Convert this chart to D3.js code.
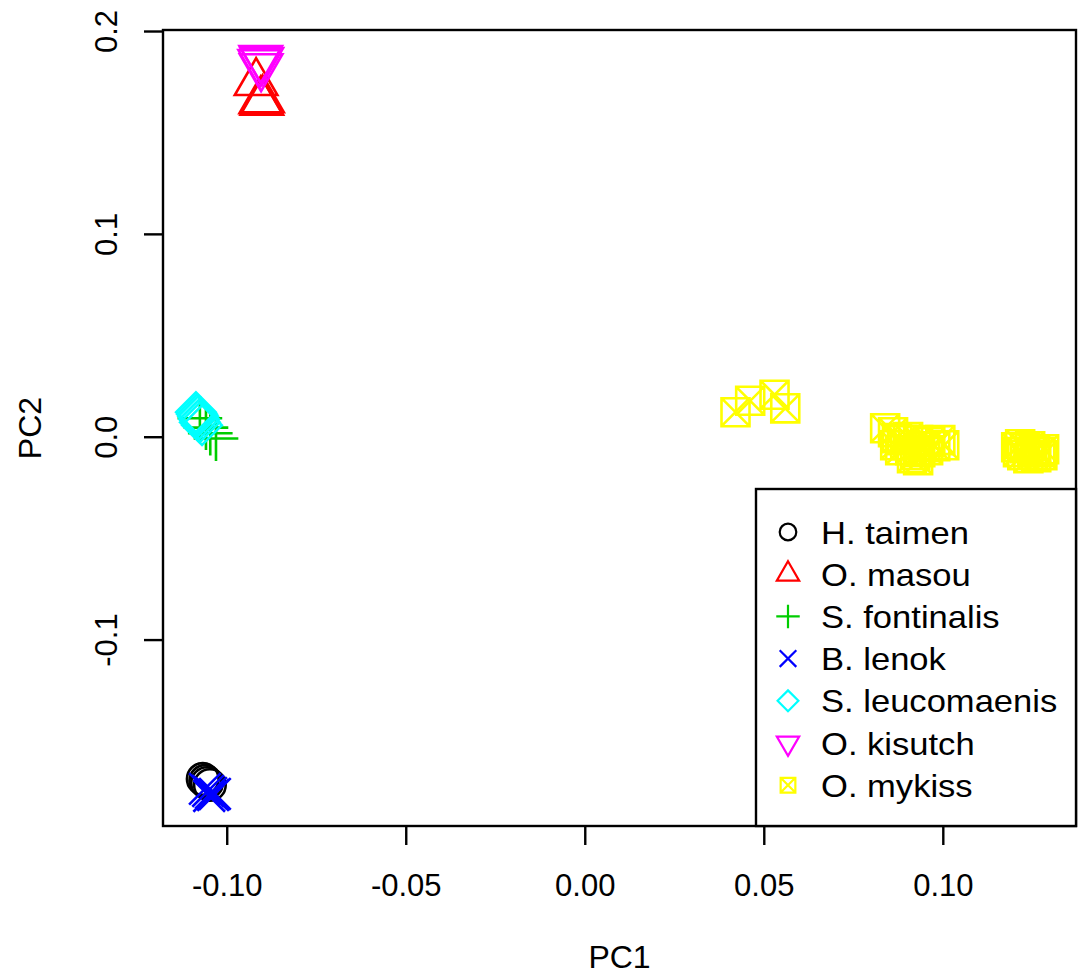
<!DOCTYPE html>
<html>
<head>
<meta charset="utf-8">
<script src="https://cdn.jsdelivr.net/npm/d3@7"></script>
<style>
  body { margin: 0; background: #fff; }
  text { font-family: "Liberation Sans", Arial, sans-serif; }
</style>
</head>
<body>
<svg id="plot"></svg>
<script>
// species, in legend order
const species = ["H. taimen", "O. masou", "S. fontinalis", "B. lenok", "S. leucomaenis", "O. kisutch", "O. mykiss"];
const colors = ["#000000", "#FF0000", "#00CD00", "#0000FF", "#00FFFF", "#FF00FF", "#FFFF00"];
const shapes = ["circle", "triUp", "plus", "cross", "diamond", "triDown", "squareX"];

// PC scores, one array per species: [PC1, PC2]
const taimen = [[-0.1067, -0.1687], [-0.1055, -0.1707], [-0.1047, -0.1717], [-0.1060, -0.1697]];
const masou = [[-0.0918, 0.1745], [-0.0905, 0.1655], [-0.0900, 0.1660], [-0.0902, 0.1648]];
const fontinalis = [[-0.1075, 0.0091], [-0.1058, 0.0045], [-0.1046, 0.0017], [-0.1030, -0.0009]];
const lenok = [[-0.1061, -0.1736], [-0.1052, -0.1746], [-0.1044, -0.1756], [-0.1038, -0.1766], [-0.1049, -0.1771], [-0.1033, -0.1761]];
const leucomaenis = [[-0.1086, 0.0121], [-0.1083, 0.0111], [-0.1080, 0.0101], [-0.1077, 0.0086], [-0.1075, 0.0071], [-0.1069, 0.0057]];
const kisutch = [[-0.0905, 0.1865], [-0.0902, 0.1855], [-0.0908, 0.1845], [-0.0904, 0.1825]];
const mykiss = [
  [0.0421, 0.0121], [0.0462, 0.0177], [0.0530, 0.0207], [0.0560, 0.0140],
  [0.0839, 0.0042], [0.0861, 0.0022], [0.0872, -0.0007], [0.0886, -0.0017], [0.0895, -0.0042],
  [0.0909, -0.0067], [0.0923, -0.0091], [0.0937, -0.0076], [0.0951, -0.0052], [0.0965, -0.0027],
  [0.0993, -0.0017], [0.1004, -0.0042], [0.0881, -0.0067], [0.0914, -0.0106], [0.0931, -0.0116],
  [0.0903, -0.0002], [0.0867, -0.0042], [0.0931, -0.0017], [0.0959, -0.0067], [0.0979, -0.0047],
  [0.1205, -0.0052], [0.1216, -0.0037], [0.1230, -0.0057], [0.1244, -0.0047], [0.1258, -0.0067],
  [0.1272, -0.0076], [0.1283, -0.0062], [0.1222, -0.0091], [0.1239, -0.0106], [0.1261, -0.0101],
  [0.1250, -0.0076], [0.1210, -0.0076], [0.1278, -0.0091]
];
const scores = [taimen, masou, fontinalis, lenok, leucomaenis, kisutch, mykiss];

const xTicks = [-0.10, -0.05, 0.00, 0.05, 0.10];
const xTickLabels = ["-0.10", "-0.05", "0.00", "0.05", "0.10"];
const yTicks = [-0.1, 0.0, 0.1, 0.2];
const yTickLabels = ["-0.1", "0.0", "0.1", "0.2"];

const width = 1079, height = 976;
const margin = {left: 163, right: 3, top: 30, bottom: 150};

const svg = d3.select("#plot").attr("width", width).attr("height", height);

const x = d3.scaleLinear().domain([-0.1178, 0.1372]).range([margin.left, width - margin.right]);
const y = d3.scaleLinear().domain([-0.1919, 0.2005]).range([height - margin.bottom, margin.top]);

// R style point glyphs, r is the base radius
function glyph(shape, r) {
  const p = d3.path();
  if (shape === "circle") {
    p.moveTo(r, 0); p.arc(0, 0, r, 0, 2 * Math.PI);
  } else if (shape === "triUp" || shape === "triDown") {
    const s = shape === "triUp" ? 1 : -1;
    const tr = 1.5551 * r, xc = 1.3468 * r, yc = 0.7776 * r;
    p.moveTo(0, -s * tr); p.lineTo(xc, s * yc); p.lineTo(-xc, s * yc); p.closePath();
  } else if (shape === "plus") {
    const c = Math.SQRT2 * r;
    p.moveTo(-c, 0); p.lineTo(c, 0); p.moveTo(0, -c); p.lineTo(0, c);
  } else if (shape === "cross") {
    p.moveTo(-r, -r); p.lineTo(r, r); p.moveTo(-r, r); p.lineTo(r, -r);
  } else if (shape === "diamond") {
    const c = 1.2533 * r;
    p.moveTo(-c, 0); p.lineTo(0, -c); p.lineTo(c, 0); p.lineTo(0, c); p.closePath();
  } else if (shape === "squareX") {
    const c = 0.8862 * r;
    p.rect(-c, -c, 2 * c, 2 * c);
    p.moveTo(-c, -c); p.lineTo(c, c); p.moveTo(-c, c); p.lineTo(c, -c);
  }
  return p.toString();
}

// points
scores.forEach((pts, i) => {
  svg.append("g").selectAll("path")
    .data(pts)
    .enter()
    .append("path")
    .attr("transform", d => `translate(${x(d[0])},${y(d[1])})`)
    .attr("d", glyph(shapes[i], 15.8))
    .attr("fill", "none")
    .attr("stroke", colors[i])
    .attr("stroke-width", 2.6);
});

// axes
const xAxis = svg.append("g")
  .attr("transform", `translate(0,${height - margin.bottom})`)
  .call(d3.axisBottom(x).tickValues(xTicks).tickFormat((d, i) => xTickLabels[i]).tickSize(19).tickPadding(29));
const yAxis = svg.append("g")
  .attr("transform", `translate(${margin.left},0)`)
  .call(d3.axisLeft(y).tickValues(yTicks).tickFormat((d, i) => yTickLabels[i]).tickSize(19).tickPadding(10));

[xAxis, yAxis].forEach(g => {
  g.select(".domain").remove();
  g.selectAll(".tick line").attr("stroke", "#000").attr("stroke-width", 2.4);
  g.selectAll(".tick text").attr("fill", "#000").style("font-size", "31px");
});
yAxis.selectAll(".tick text")
  .attr("text-anchor", "middle")
  .attr("dy", null)
  .attr("x", null)
  .attr("transform", "translate(-57,0) rotate(-90)")
  .attr("dominant-baseline", "central");

// plot box
svg.append("rect")
  .attr("x", margin.left).attr("y", margin.top)
  .attr("width", width - margin.right - margin.left)
  .attr("height", height - margin.bottom - margin.top)
  .attr("fill", "none").attr("stroke", "#000").attr("stroke-width", 2.4);

// axis titles
svg.append("text")
  .attr("x", (margin.left + width - margin.right) / 2).attr("y", 968)
  .attr("text-anchor", "middle").style("font-size", "32px").text("PC1");
svg.append("text")
  .attr("transform", `translate(41,${(margin.top + height - margin.bottom) / 2}) rotate(-90)`)
  .attr("text-anchor", "middle").style("font-size", "32px").text("PC2");

// legend
const legend = svg.append("g");
legend.append("rect")
  .attr("x", 756).attr("y", 489)
  .attr("width", width - margin.right - 756).attr("height", height - margin.bottom - 489)
  .attr("fill", "#fff").attr("stroke", "#000").attr("stroke-width", 2.4);
const rows = legend.selectAll("g.row")
  .data(species)
  .enter()
  .append("g")
  .attr("class", "row")
  .attr("transform", (d, i) => `translate(788,${532 + i * 42.2})`);
rows.append("path")
  .attr("d", (d, i) => glyph(shapes[i], 8.3))
  .attr("fill", "none")
  .attr("stroke", (d, i) => colors[i])
  .attr("stroke-width", 2.2);
rows.append("text")
  .attr("transform", "translate(33,0) scale(1.08,1)")
  .attr("dy", "0.36em")
  .style("font-size", "32px")
  .text(d => d);
</script>
</body>
</html>
